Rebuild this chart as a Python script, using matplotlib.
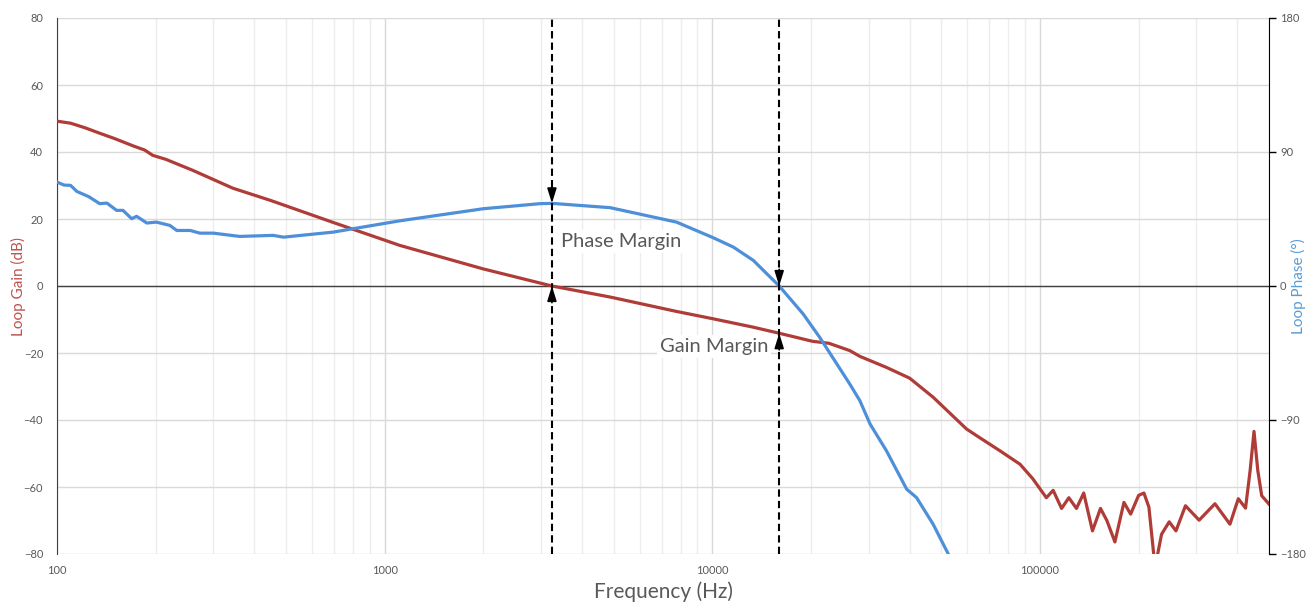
import matplotlib
matplotlib.use('Agg')
import matplotlib.pyplot as plt
import numpy as np

plt.rcParams['font.family'] = ['Lato', 'DejaVu Sans']

# Loop gain (dB)
gain_freq = [100, 110, 122, 135, 150, 171, 185, 196, 215, 260, 344, 450, 695, 1114,
             2000, 3240, 4880, 7780, 10070, 13340, 16000, 20200, 22700, 26300, 28200,
             34000, 40000, 47200, 59700, 66000, 75500, 86900, 95000, 104600, 109700,
             116400, 122500, 129200, 136000, 144600, 153000, 160000, 169300, 180400,
             189100, 200000, 207600, 215000, 224500, 235000, 248000, 260000, 278000,
             306000, 342000, 380000, 403000, 424000, 438000, 450000, 462000, 475000,
             500000]
gain_db = [49.2, 48.6, 47.2, 45.6, 44.0, 41.8, 40.6, 39.0, 37.8, 34.5, 29.2, 25.5, 19.0, 12.1,
           5.1, 0.0, -3.3, -7.6, -9.8, -12.3, -14.1, -16.5, -17.1, -19.3, -21.0,
           -24.3, -27.5, -33.2, -42.7, -45.5, -49.2, -53.2, -57.5, -63.2, -61.0,
           -66.4, -63.2, -66.4, -61.8, -73.1, -66.4, -70.0, -76.4, -64.6,
           -68.1, -62.5, -61.8, -66.0, -84.0, -74.1, -70.4, -73.1, -65.6,
           -69.9, -65.0, -71.1, -63.5, -66.3, -55.0, -43.4, -55.0, -62.6,
           -65.1]

# Loop phase (deg)
phase_freq = [100, 105, 110, 115, 125, 135, 142, 152, 159, 169, 175, 188, 201, 221, 232,
              255, 273, 300, 361, 457, 491, 697, 802, 1114, 2000, 2980, 3240, 4880,
              7780, 10070, 11600, 13340, 16000, 18920, 21270, 26300, 28200, 30300,
              34000, 39200, 42000, 47200, 52500, 56000]
phase_deg = [69.8, 67.8, 67.6, 63.5, 60.0, 55.3, 55.7, 50.8, 50.8, 45.2, 46.8, 42.3, 42.9,
             40.7, 37.3, 37.3, 35.5, 35.5, 33.3, 34.0, 32.8, 36.2, 38.5, 43.8, 51.9,
             55.3, 55.5, 52.6, 42.9, 32.4, 26.1, 17.2, 0.0, -18.7, -34.5, -66.0,
             -77.0, -92.7, -110.7, -136.5, -142.1, -160.0, -180.0, -192.0]

# Margin markers
pm_freq = 3240
pm_phase = 55.5
gm_freq = 16000
gm_gain = -14.1

gain_ticks = [-80, -60, -40, -20, 0, 20, 40, 60, 80]
phase_ticks = [-180, -90, 0, 90, 180]
freq_ticks = [100, 1000, 10000, 100000]

red = '#B03C38'
blue = '#4E8FD9'
label_red = '#C0504D'
label_blue = '#5B9BD5'
gray = '#595959'

fig = plt.figure(figsize=(13.07, 6.04), dpi=100)
ax1 = fig.add_axes([57 / 1307, 1 - 554 / 604, (1269 - 57) / 1307, (554 - 18) / 604])
ax2 = ax1.twinx()

ax1.set_xscale('log')
ax1.set_xlim(100, 500000)
ax1.set_ylim(-80, 80)
ax2.set_ylim(-180, 180)

# grid
ax1.set_yticks(gain_ticks)
ax1.set_xticks(freq_ticks)
ax1.set_xticklabels([str(f) for f in freq_ticks])
ax1.grid(True, which='major', axis='y', color='#D9D9D9', lw=1.0)
ax1.grid(True, which='major', axis='x', color='#D9D9D9', lw=1.0)
ax1.grid(True, which='minor', axis='x', color='#EDEDED', lw=1.0)
ax1.set_axisbelow(True)
ax1.axhline(0, color='#404040', lw=1.0, zorder=1)

ax1.plot(gain_freq, gain_db, color=red, lw=2.3, zorder=3)
ax2.plot(phase_freq, phase_deg, color=blue, lw=2.3, zorder=3)

# spines and ticks
for s in ['top', 'bottom']:
    ax1.spines[s].set_visible(False)
    ax2.spines[s].set_visible(False)
ax2.spines['left'].set_visible(False)
ax1.spines['right'].set_visible(False)
ax1.spines['left'].set_color('#404040')
ax2.spines['right'].set_color('black')
ax1.tick_params(axis='y', length=0, pad=10, labelsize=8, labelcolor=gray)
ax1.tick_params(axis='x', which='both', length=0, pad=8, labelsize=8, labelcolor=gray)
ax1.xaxis.set_minor_formatter(matplotlib.ticker.NullFormatter())
ax2.set_yticks(phase_ticks)
ax2.tick_params(axis='y', length=5, width=1, pad=3, labelsize=8, labelcolor=gray)

ax1.set_ylabel('Loop Gain (dB)', color=label_red, fontsize=11, va='center')
ax2.set_ylabel('Loop Phase (°)', color=label_blue, fontsize=11, va='center')
ax1.set_xlabel('Frequency (Hz)', color=gray, fontsize=15, va='center')
ax1.yaxis.set_label_coords(-0.032, 0.5)
ax2.yaxis.set_label_coords(1.024, 0.5)
ax1.xaxis.set_label_coords(0.5, -0.071)

# margin lines and arrows
for f in [pm_freq, gm_freq]:
    ax2.axvline(f, color='black', lw=1.5, linestyle=(0, (3.5, 2)), zorder=4)

arrow = dict(arrowstyle='-|>,head_length=0.9,head_width=0.28', color='black',
             lw=1.2, shrinkA=0, shrinkB=0)
# phase margin: down arrow onto phase curve, up arrow onto 0 dB
ax2.annotate('', xy=(pm_freq, pm_phase), xytext=(0, 12), textcoords='offset points',
             arrowprops=arrow, zorder=5)
ax2.annotate('', xy=(pm_freq, 0), xytext=(0, -12), textcoords='offset points',
             arrowprops=arrow, zorder=5)
# gain margin: down arrow onto 0 deg, up arrow onto gain curve
ax2.annotate('', xy=(gm_freq, 0), xytext=(0, 12), textcoords='offset points',
             arrowprops=arrow, zorder=5)
ax2.annotate('', xy=(gm_freq, gm_gain), xycoords=ax1.transData, xytext=(0, -12),
             textcoords='offset points', arrowprops=arrow, zorder=5)

box = dict(boxstyle='square,pad=0.15', facecolor='white', edgecolor='none')
ax1.text(3450, 13.2, 'Phase Margin', fontsize=14.5, color=gray, ha='left', va='center',
         bbox=box, zorder=4)
ax1.text(14800, -18.0, 'Gain Margin', fontsize=14.5, color=gray, ha='right', va='center',
         bbox=box, zorder=4)

plt.savefig('out.png', dpi=100)
